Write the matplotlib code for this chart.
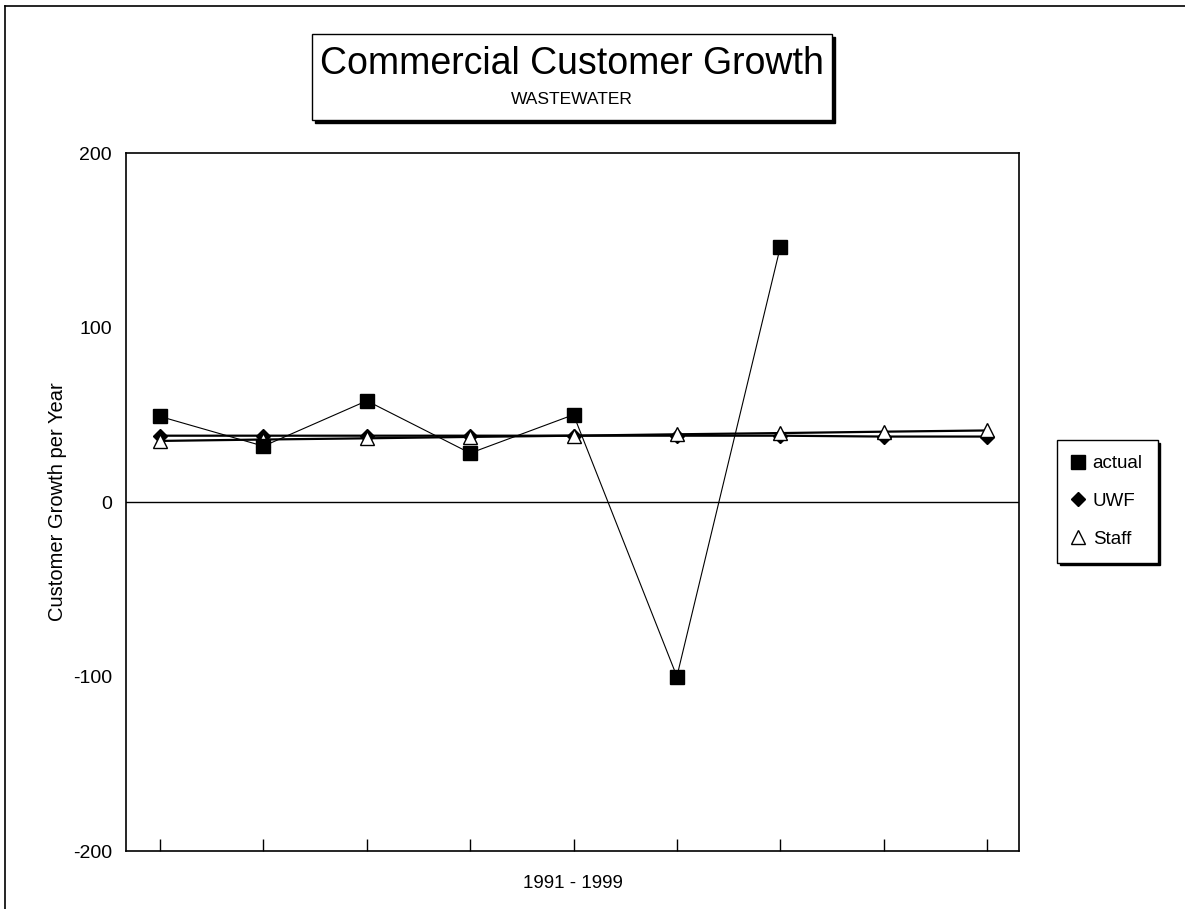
import numpy as np
import matplotlib.pyplot as plt
from matplotlib.patches import Rectangle
from matplotlib.lines import Line2D

plt.rcParams["font.family"] = ["Liberation Sans", "DejaVu Sans"]
plt.rcParams["axes.unicode_minus"] = False

# data points (one per year, 1991 - 1999)
years = [1, 2, 3, 4, 5, 6, 7, 8, 9]
actual = [49, 32, 58, 28, 50, -100, 146]
uwf = [38, 38, 38, 38, 38, 38, 38, 37.5, 37.5]
staff = [35, 35.8, 36.5, 37.3, 38, 38.8, 39.5, 40.3, 41]
y_ticks = [-200, -100, 0, 100, 200]

W, H = 1185, 909
fig = plt.figure(figsize=(W / 100, H / 100), dpi=100)
ax = fig.add_axes([126 / W, 1 - 851 / H, (1019 - 126) / W, (851 - 153) / H])

ax.axhline(0, color="black", lw=1.0, zorder=1)
ax.plot(years, uwf, color="black", lw=1.6, marker="D", ms=7,
        mfc="black", mec="black", label="UWF", zorder=3)
ax.plot(years, staff, color="black", lw=1.6, marker="^", ms=10,
        mfc="white", mec="black", mew=1.0, label="Staff", zorder=4)
ax.plot(years[:len(actual)], actual, color="black", lw=0.8, marker="s",
        ms=10, mfc="black", mec="black", label="actual", zorder=5)

ax.set_xlim(0.67, 9.31)
ax.set_ylim(-200, 200)
ax.set_yticks(y_ticks)
ax.set_xticks(years)
ax.set_xticklabels([])
ax.tick_params(axis="y", length=0, labelsize=14, pad=10)
ax.tick_params(axis="x", direction="in", length=9, width=1)
for s in ax.spines.values():
    s.set_linewidth(1.2)

ax.set_xlabel("1991 - 1999", fontsize=13.5, labelpad=14)
ax.set_ylabel("Customer Growth per Year", fontsize=14.5, labelpad=4)

# legend in the order actual, UWF, Staff
h, l = ax.get_legend_handles_labels()
order = [2, 0, 1]
leg = ax.legend([h[i] for i in order], [l[i] for i in order],
                loc="upper left", bbox_to_anchor=(1057 / W, 1 - 440 / H),
                bbox_transform=fig.transFigure, borderaxespad=0,
                fontsize=13.5, frameon=True,
                fancybox=False, edgecolor="black", handlelength=0.6,
                handletextpad=0.5, labelspacing=1.1, borderpad=0.8,
                shadow={"facecolor": "black", "edgecolor": "black", "alpha": 1})
leg.get_frame().set_linewidth(1.0)
for lh in leg.get_lines():
    lh.set_linestyle("none")

# title box with shadow
bx0, bx1, by0, by1 = 312, 832, 34, 120
fig.patches.append(Rectangle((bx0 / W + 3 / W, 1 - by1 / H - 3 / H),
                             (bx1 - bx0) / W, (by1 - by0) / H,
                             transform=fig.transFigure, facecolor="black",
                             edgecolor="black"))
fig.patches.append(Rectangle((bx0 / W, 1 - by1 / H),
                             (bx1 - bx0) / W, (by1 - by0) / H,
                             transform=fig.transFigure, facecolor="white",
                             edgecolor="black", lw=1.0))
fig.text((bx0 + bx1) / 2 / W, 1 - 64 / H, "Commercial Customer Growth",
         ha="center", va="center", fontsize=27)
fig.text((bx0 + bx1) / 2 / W, 1 - 100 / H, "WASTEWATER",
         ha="center", va="center", fontsize=12.5)

# figure border (top and left)
fig.add_artist(Line2D([5 / W, 1], [1 - 6 / H, 1 - 6 / H], color="black", lw=1.2))
fig.add_artist(Line2D([5 / W, 5 / W], [0, 1 - 6 / H], color="black", lw=1.2))

fig.savefig("out.png", dpi=100, facecolor="white")
